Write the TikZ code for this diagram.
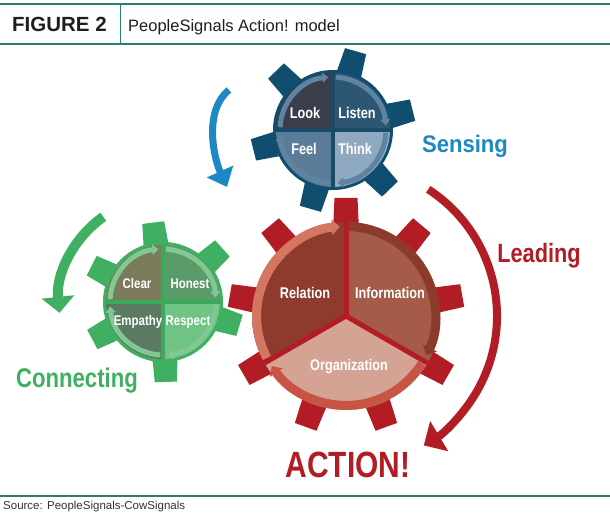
\documentclass[tikz,border=0pt]{standalone}
\usepackage{fontspec}
\setmainfont{Liberation Sans}
\newfontfamily\condb[FakeStretch=0.82]{Liberation Sans}
\newfontfamily\condc[FakeStretch=0.92]{Liberation Sans}
\usetikzlibrary{arrows.meta}
\definecolor{teal}{HTML}{2A8070}
\definecolor{bbody}{HTML}{0F4E6F}
\definecolor{blook}{HTML}{3A3E4A}
\definecolor{blisten}{HTML}{2D5673}
\definecolor{bfeel}{HTML}{5A7C98}
\definecolor{bthink}{HTML}{8FA9C1}
\definecolor{bring}{HTML}{5F83A0}
\definecolor{bdiv}{HTML}{1A4A68}
\definecolor{barrow}{HTML}{1C89C2}
\definecolor{gbody}{HTML}{3FB062}
\definecolor{gclear}{HTML}{7B7B5C}
\definecolor{ghonest}{HTML}{5A9B6A}
\definecolor{gempathy}{HTML}{5B7A62}
\definecolor{grespect}{HTML}{70C383}
\definecolor{gring}{HTML}{82C893}
\definecolor{gdiv}{HTML}{3AA95B}
\definecolor{rteeth}{HTML}{B21D25}
\definecolor{rrel}{HTML}{8E3B2E}
\definecolor{rinfo}{HTML}{A55B48}
\definecolor{rorg}{HTML}{D4A394}
\definecolor{rringa}{HTML}{D47662}
\definecolor{rringb}{HTML}{8C3A2C}
\definecolor{rringc}{HTML}{C85443}
\definecolor{txtdark}{HTML}{1E1E1E}
\tikzset{
  lab/.style={text=white, font=\condb\bfseries\fontsize{15.5}{17}\selectfont, anchor=base, inner sep=0pt},
  glab/.style={lab, font=\condb\bfseries\fontsize{14}{16}\selectfont},
  big/.style={font=\condb\bfseries\fontsize{26.5}{30}\selectfont, anchor=base, inner sep=0pt},
  ringarrow/.style={-{Triangle[length=6pt,width=10pt]}},
  redringarrow/.style={-{Triangle[length=8pt,width=15pt]}}
}
\begin{document}
\begin{tikzpicture}[x=1pt,y=1pt]
\useasboundingbox (0,0) rectangle (610,524);
% header
\draw[teal, line width=1.5pt] (0,520) -- (610,520);
\draw[teal, line width=2pt] (0,480) -- (610,480);
\draw[teal, line width=1pt] (120,520) -- (120,480);
\node[anchor=base west, inner sep=0pt, text=txtdark, font=\bfseries\fontsize{20.5}{22}\selectfont] (fig) at (12,492) {FIGURE 2};
\node[anchor=base west, inner sep=0pt, text=txtdark, font=\fontsize{16.5}{19}\selectfont] (title) at (128,492) {PeopleSignals Action! model};
% footer
\draw[teal, line width=1.5pt] (0,28) -- (610,28);
\node[anchor=base west, inner sep=0pt, text=black!80, font=\fontsize{11.5}{13}\selectfont] (src) at (3,14.7) {Source: PeopleSignals-CowSignals};

\coordinate (B) at (333,394);
\coordinate (G) at (163,222);
\coordinate (R) at (346,208);

% ---------- red gear ----------
\foreach \a in {10,50,...,330}
  \fill[rteeth, shift={(R)}, rotate=\a] (86,-13) -- (118,-11.5) -- (118,11.5) -- (86,13) -- cycle;
\fill[rrel]  (R) -- ([shift={(90:94)}]R) arc (90:210:94) -- cycle;
\fill[rinfo] (R) -- ([shift={(-30:94)}]R) arc (-30:90:94) -- cycle;
\fill[rorg]  (R) -- ([shift={(210:94)}]R) arc (210:330:94) -- cycle;
\draw[rringa, line width=9pt, redringarrow] ([shift={(208:89.5)}]R) arc (208:94:89.5);
\draw[rringb, line width=9pt, redringarrow] ([shift={(88:89.5)}]R) arc (88:-26:89.5);
\draw[rringc, line width=9pt, redringarrow] ([shift={(-32:89.5)}]R) arc (-32:-146:89.5);
\foreach \a in {90,210,330}
  \draw[rteeth, line width=5pt] (R) -- ([shift={(\a:94)}]R);
\node[lab] (relation) at (305,225) {Relation};
\node[lab] (information) at (390,225) {Information};
\node[lab] (organization) at (349,153.3) {Organization};

% ---------- blue gear ----------
\foreach \a in {14,74,...,314}
  \fill[bbody, shift={(B)}, rotate=\a] (50,-13) -- (82,-11) -- (82,11) -- (50,13) -- cycle;
\fill[bbody] (B) circle (60);
\fill[blook]   (B) -- ([shift={(90:57)}]B) arc (90:180:57) -- cycle;
\fill[blisten] (B) -- ([shift={(0:57)}]B) arc (0:90:57) -- cycle;
\fill[bfeel]   (B) -- ([shift={(180:57)}]B) arc (180:270:57) -- cycle;
\fill[bthink]  (B) -- ([shift={(270:57)}]B) arc (270:360:57) -- cycle;
\foreach \s in {0,90,180,270}
  \draw[bring, line width=5pt, ringarrow] ([shift={(\s+87:53)}]B) arc (\s+87:\s+5:53);
\draw[bdiv, line width=4pt] ([shift={(90:58)}]B) -- ([shift={(270:58)}]B);
\draw[bdiv, line width=4pt] ([shift={(0:58)}]B) -- ([shift={(180:58)}]B);
\node[lab] (look) at (305,405.7) {Look};
\node[lab] (listen) at (357,405.7) {Listen};
\node[lab] (feel) at (304,369) {Feel};
\node[lab] (think) at (355,369) {Think};

% ---------- green gear ----------
\foreach \a in {42,97,153,208,272,343}
  \fill[gbody, shift={(G)}, rotate=\a] (50,-13) -- (80,-11) -- (80,11) -- (50,13) -- cycle;
\fill[gbody] (G) circle (60);
\fill[gclear]   (G) -- ([shift={(90:57)}]G) arc (90:180:57) -- cycle;
\fill[ghonest]  (G) -- ([shift={(0:57)}]G) arc (0:90:57) -- cycle;
\fill[gempathy] (G) -- ([shift={(180:57)}]G) arc (180:270:57) -- cycle;
\fill[grespect] (G) -- ([shift={(270:57)}]G) arc (270:360:57) -- cycle;
\foreach \s in {0,90,180,270}
  \draw[gring, line width=5pt, ringarrow] ([shift={(\s+87:53)}]G) arc (\s+87:\s+5:53);
\draw[gdiv, line width=4pt] ([shift={(90:58)}]G) -- ([shift={(270:58)}]G);
\draw[gdiv, line width=4pt] ([shift={(0:58)}]G) -- ([shift={(180:58)}]G);
\node[glab] (clear) at (137,235.7) {Clear};
\node[glab] (honest) at (190,235.7) {Honest};
\node[glab] (empathy) at (138,198.3) {Empathy};
\node[glab] (respect) at (188,198.3) {Respect};

% ---------- big arrows ----------
\coordinate (bs) at (229,434);
\coordinate (be) at (227,337);
\draw[barrow, line width=7pt, -{Triangle[length=17pt,width=28pt]}] (bs) .. controls (204,414) and (213,368) .. (be);
\draw[gbody, line width=10pt, -{Triangle[length=16pt,width=32pt]}] ([shift={(125:104)}]G) arc (125:186:104);
\draw[rteeth, line width=8pt, -{Triangle[length=18pt,width=34pt]}] ([shift={(57:151)}]R) arc (57:-59:151);

% ---------- labels ----------
\node[big, text=barrow, font=\condc\bfseries\fontsize{24}{28}\selectfont] (sensing) at (465,371) {Sensing};
\node[big, text=rteeth] (leading) at (539,261.3) {Leading};
\node[big, text=gbody, font=\condb\bfseries\fontsize{27}{30}\selectfont] (connecting) at (77,136) {Connecting};
\node[big, text=rteeth, font=\condb\bfseries\fontsize{36.5}{40}\selectfont] (action) at (348,46.3) {ACTION!};
\end{tikzpicture}
\end{document}
